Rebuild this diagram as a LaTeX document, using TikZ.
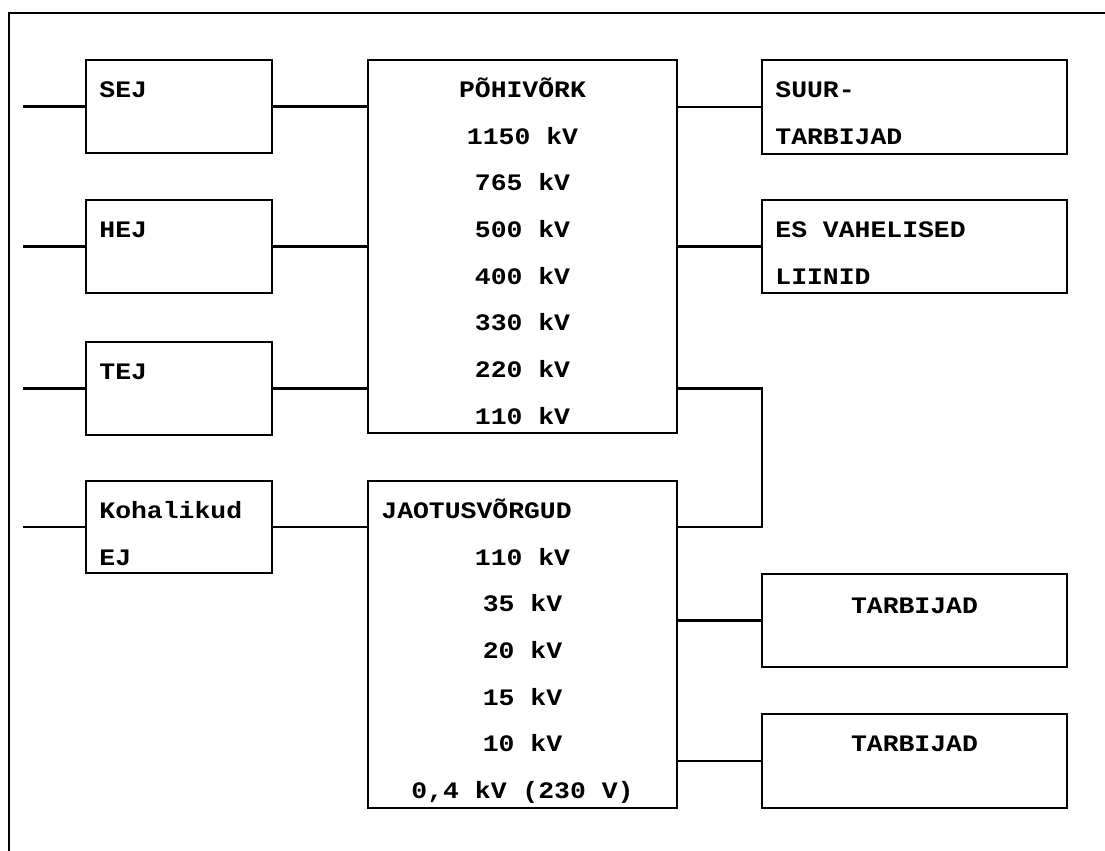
\documentclass[tikz,border=0pt]{standalone}
\usepackage{fontspec}
\newfontfamily\courfont[FakeStretch=1.12]{Liberation Mono}
\usetikzlibrary{positioning}
\tikzset{
  line/.style={draw=black,line width=1.4pt},
  box/.style={line,rectangle,outer sep=0pt,inner sep=0pt,anchor=north west},
  smallbox/.style={box,minimum width=93pt,minimum height=46.5pt},
  widebox/.style={box,minimum width=152.5pt,minimum height=46.5pt},
  netbox/.style={box,minimum width=154.5pt},
  txt/.style={font=\courfont\bfseries\fontsize{11.8}{23.35}\selectfont,inner sep=0pt},
  lefttxt/.style={txt,align=left,anchor=north west},
  midtxt/.style={txt,align=center,anchor=north},
}

\begin{document}
\begin{tikzpicture}[x=0.5pt,y=-0.5pt]
\useasboundingbox (0,0) rectangle (1105,851);
% outer frame
\draw[line] (9,851) -- (9,13) -- (1105,13);

% sources
\node[smallbox] (sej) at (86,60) {};
\node[smallbox] (hej) at (86,200) {};
\node[smallbox] (tej) at (86,342) {};
\node[smallbox,minimum height=46pt] (koh) at (86,481) {};
\node[lefttxt] (sejt) at ([xshift=6.5pt,yshift=-2.15pt]sej.north west) {\strut SEJ};
\node[lefttxt] (hejt) at ([xshift=6.5pt,yshift=-2.15pt]hej.north west) {\strut HEJ};
\node[lefttxt] (tejt) at ([xshift=6.5pt,yshift=-2.15pt]tej.north west) {\strut TEJ};
\node[lefttxt] (koht) at ([xshift=6.5pt,yshift=-2.15pt]koh.north west) {\strut Kohalikud\\EJ};

% networks
\node[netbox,minimum height=186.5pt] (pohi) at (368,60) {};
\node[midtxt] (pohit) at ([yshift=-2.15pt]pohi.north) {\strut PÕHIVÕRK\\1150 kV\\765 kV\\500 kV\\400 kV\\330 kV\\220 kV\\110 kV};
\node[netbox,minimum height=163.5pt] (jaot) at (368,481) {};
\node[lefttxt] (jaoth) at ([xshift=6.5pt,yshift=-2.15pt]jaot.north west) {\strut JAOTUSVÕRGUD};
\node[midtxt] (jaotv) at ([yshift=-25.5pt]jaot.north) {\strut 110 kV\\35 kV\\20 kV\\15 kV\\10 kV\\0,4 kV (230 V)};

% consumers
\node[widebox,minimum height=47pt] (suur) at (762,60) {};
\node[widebox] (esv) at (762,200) {};
\node[widebox] (tarb) at (762,574) {};
\node[widebox,minimum height=47pt] (tarbb) at (762,714) {};
\node[lefttxt] (suurt) at ([xshift=6.5pt,yshift=-2.15pt]suur.north west) {\strut SUUR-\\TARBIJAD};
\node[lefttxt] (esvt) at ([xshift=6.5pt,yshift=-2.15pt]esv.north west) {\strut ES VAHELISED\\LIINID};
\node[midtxt] (tarbt) at ([yshift=-3.15pt]tarb.north) {\strut TARBIJAD};
\node[midtxt] (tarbbt) at ([yshift=-2.15pt]tarbb.north) {\strut TARBIJAD};

% connections
\foreach \n in {sej,hej,tej,koh}
  \draw[line] (\n.west) -- ++(-63,0);
\foreach \n in {sej,hej,tej}
  \draw[line] (\n.east) -- (\n.east -| pohi.west);
\draw[line] (koh.east) -- (koh.east -| jaot.west);
\draw[line] (pohi.east |- suur.west) -- (suur.west);
\draw[line] (pohi.east |- esv.west) -- (esv.west);
\draw[line] (pohi.east |- tej.east) -| (suur.west |- koh.east) -- (jaot.east |- koh.east);
\draw[line] (jaot.east |- tarb.west) -- (tarb.west);
\draw[line] (jaot.east |- tarbb.west) -- (tarbb.west);
\end{tikzpicture}
\end{document}
